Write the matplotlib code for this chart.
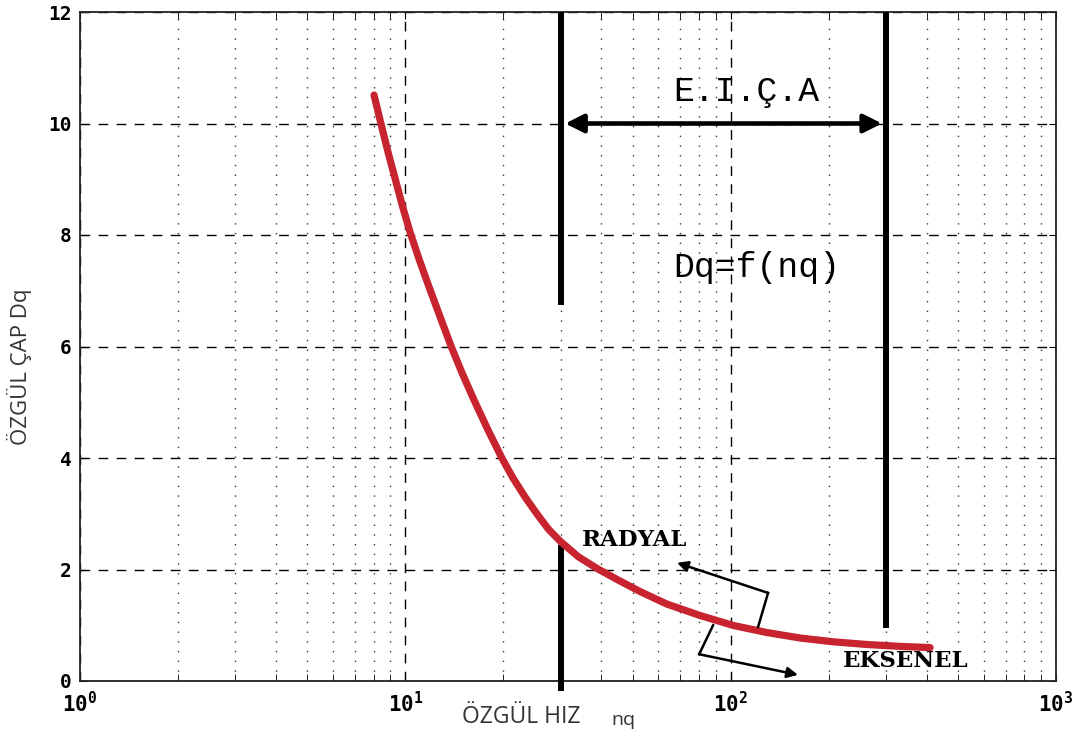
import matplotlib
matplotlib.use("Agg")
import matplotlib.pyplot as plt
from matplotlib.ticker import FixedLocator, FuncFormatter, NullFormatter

# ---- data ----
nq = [8.012, 8.401, 8.845, 9.362, 9.836, 10.336, 11.016, 11.767, 12.694, 13.815,
      14.940, 16.259, 17.953, 19.784, 21.426, 23.331, 25.394, 27.507, 29.882,
      33.94, 38.74, 45.06, 52.64, 63.60, 80.52, 101.9, 129.1, 163.4, 206.8,
      261.9, 331.6, 410.1]
dq = [10.511, 10.014, 9.489, 8.951, 8.484, 8.054, 7.570, 7.103, 6.583, 6.009,
      5.525, 5.040, 4.502, 4.005, 3.641, 3.300, 2.996, 2.726, 2.511,
      2.233, 2.022, 1.812, 1.605, 1.381, 1.175, 0.996, 0.870, 0.771, 0.703,
      0.655, 0.621, 0.599]

x_ticks = [1, 10, 100, 1000]
x_exps = [0, 1, 2, 3]
y_ticks = [0, 2, 4, 6, 8, 10, 12]

bar_left_x = 30
bar_right_x = 300
bar_left_upper = (12.0, 6.8)
bar_left_lower = (2.39, -0.13)
bar_right_span = (12.0, 1.0)

plt.rcParams['mathtext.fontset'] = 'custom'
plt.rcParams['mathtext.bf'] = 'DejaVu Sans Mono:bold'
plt.rcParams['mathtext.rm'] = 'DejaVu Sans Mono:bold'

fig = plt.figure(figsize=(10.86, 7.36), dpi=100)
ax = fig.add_axes([80/1086, 1-681/736, (1056-80)/1086, (681-12)/736])

ax.set_xscale('log')
ax.set_xlim(1, 1000)
ax.set_ylim(0, 12)

# grid
ax.xaxis.set_major_locator(FixedLocator(x_ticks))
ax.xaxis.set_minor_locator(FixedLocator([m * d for d in [1, 10, 100] for m in range(2, 10)]))
ax.xaxis.set_minor_formatter(NullFormatter())
ax.xaxis.set_major_formatter(FuncFormatter(
    lambda v, p: r'$\mathbf{10^{%d}}$' % x_exps[x_ticks.index(int(round(v)))] if int(round(v)) in x_ticks else ''))
ax.yaxis.set_major_locator(FixedLocator(y_ticks))
ax.grid(True, which='major', color='black', linestyle=(0, (7, 6)), linewidth=1.0)
ax.grid(True, which='minor', axis='x', color='#333333', linestyle=(0, (1, 6)), linewidth=1.0)

for lab in ax.get_yticklabels():
    lab.set_fontfamily('DejaVu Sans Mono')
    lab.set_fontweight('bold')
    lab.set_fontsize(14)
ax.tick_params(axis='y', which='major', pad=6)
ax.tick_params(axis='x', which='major', labelsize=15, pad=7)
ax.tick_params(which='both', direction='in', top=True, right=True, color='black')
ax.tick_params(which='major', length=5)
ax.tick_params(which='minor', length=5)
for s in ax.spines.values():
    s.set_linewidth(1.3)
    s.set_color('#222222')

# curve
ax.plot(nq, dq, color='#C8242F', linewidth=5.2, solid_capstyle='round',
        solid_joinstyle='round', zorder=5)

# vertical bars
ax.plot([bar_left_x, bar_left_x], bar_left_upper, color='black', linewidth=4.3, zorder=4)
ax.plot([bar_left_x, bar_left_x], bar_left_lower, color='black', linewidth=4.3, zorder=4, clip_on=False)
ax.plot([bar_right_x, bar_right_x], bar_right_span, color='black', linewidth=4.3, zorder=4)

# double arrow
ax.annotate('', xy=(31.0, 10.0), xytext=(292, 10.0),
            arrowprops=dict(arrowstyle='<|-|>,head_length=0.5,head_width=0.25', lw=3.3, color='black',
                            mutation_scale=22, shrinkA=0, shrinkB=0), zorder=6)

mono = 'Liberation Mono'
ax.text(66.5, 10.58, 'E.I.Ç.A', fontfamily=mono, fontsize=25, va='center', ha='left')
ax.text(66.5, 7.41, 'Dq=f(nq)', fontfamily=mono, fontsize=25, va='center', ha='left')
ax.text(34.9, 2.53, 'RADYAL', fontfamily='DejaVu Serif', fontweight='bold', fontsize=16.5,
        va='center', ha='left')
ax.text(221.6, 0.36, 'EKSENEL', fontfamily='DejaVu Serif', fontweight='bold', fontsize=16.5,
        va='center', ha='left')

# bracket arrows
ax.plot([121.4, 130.3], [0.97, 1.58], color='black', linewidth=1.8, zorder=6)
ax.annotate('', xy=(68.4, 2.12), xytext=(130.3, 1.58),
            arrowprops=dict(arrowstyle='-|>', lw=1.8, color='black',
                            mutation_scale=16, shrinkA=0, shrinkB=0), zorder=6)
ax.plot([88.3, 80.0], [1.00, 0.48], color='black', linewidth=1.8, zorder=6)
ax.annotate('', xy=(161, 0.11), xytext=(80.0, 0.48),
            arrowprops=dict(arrowstyle='-|>', lw=1.8, color='black',
                            mutation_scale=16, shrinkA=0, shrinkB=0), zorder=6)

# axis labels
fig.text(462/1086, 1-723/736, 'ÖZGÜL HIZ', fontfamily='Open Sans', fontsize=16.5,
         color='#333333', ha='left', va='baseline')
fig.text(611/1086, 1-725/736, 'nq', fontfamily='Open Sans', fontsize=14,
         color='#333333', ha='left', va='baseline')
fig.text(20/1086, 1-367/736, 'ÖZGÜL ÇAP Dq', fontfamily='Open Sans', fontsize=16,
         color='#333333', ha='center', va='center', rotation=90)

fig.savefig('out.png', dpi=100)
